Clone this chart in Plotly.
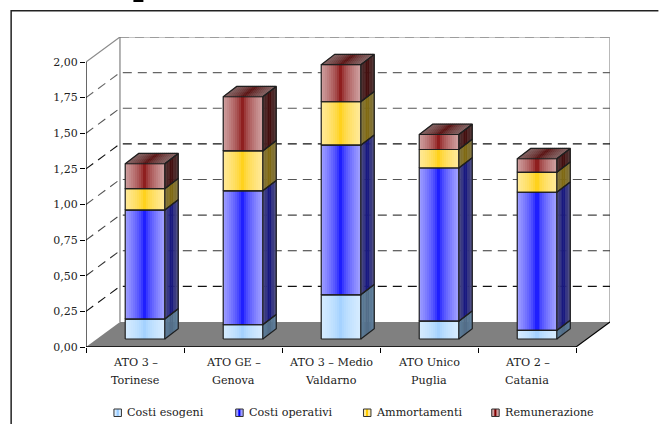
import plotly.graph_objects as go

# Unit cost components per water district (euro per cubic metre)
categories = [("ATO 3 –", "Torinese"), ("ATO GE –", "Genova"), ("ATO 3 – Medio", "Valdarno"),
              ("ATO Unico", "Puglia"), ("ATO 2 –", "Catania")]
costi_esogeni = [0.14, 0.10, 0.31, 0.125, 0.06]
costi_operativi = [0.765, 0.94, 1.05, 1.075, 0.97]
ammortamenti = [0.15, 0.28, 0.305, 0.13, 0.14]
remunerazione = [0.175, 0.38, 0.26, 0.105, 0.095]
y_ticks = [0, 0.25, 0.5, 0.75, 1.0, 1.25, 1.5, 1.75, 2.0]
series = [
    ("Costi esogeni", costi_esogeni, "#99ccff", "#d6ecff", "#4d6680", "#5f7f9c"),
    ("Costi operativi", costi_operativi, "#0000ff", "#a0a0ff", "#000080", "#4d4d80"),
    ("Ammortamenti", ammortamenti, "#ffcc00", "#ffe999", "#806600", "#807340"),
    ("Remunerazione", remunerazione, "#800000", "#cfa0a0", "#400000", "#4d3333"),
]
top_colors = ("#500000", "#806060")

W, H = 659, 424
MARGIN_L, MARGIN_R, MARGIN_T, MARGIN_B = 85.5, 48.5, 37, 77
FONT = "DejaVu Serif"
TEXT = "#222222"
LABEL_SIZE = 11.2

# Oblique projection of the chart box, in axis units
n = len(categories)
slot_px = 98.1
unit_px = 142.5
box_dx = 34 / slot_px
box_dy = 25 / unit_px
bar_w = 39.6 / slot_px
bar_shift = 10 / slot_px
bar_lift = 8 / unit_px
side_dx = 13.5 / slot_px
side_dy = 10.3 / unit_px
front_strips = 20
side_strips = 8


def hex_rgb(c):
    return tuple(int(c[i:i + 2], 16) for i in (1, 3, 5))


def mix(a, b, t):
    ra, rb = hex_rgb(a), hex_rgb(b)
    return "rgb(%d,%d,%d)" % tuple(round(x + (y - x) * t) for x, y in zip(ra, rb))


def band(centre, edge, u):
    # Metallic shading: pale edges falling to a saturated middle
    return mix(centre, edge, abs(2 * u - 1) ** 0.55)


fig = go.Figure()
shapes = []
annotations = []


def px(x):
    return (x - MARGIN_L) / (W - MARGIN_L - MARGIN_R)


def py(y):
    return 1 - (y - MARGIN_T) / (H - MARGIN_T - MARGIN_B)


# Floor, back wall and left wall
shapes.append(dict(type="path", layer="below", xref="x", yref="y", fillcolor="#808080", line=dict(width=0),
                   path=f"M0,0 L{n},0 L{n + box_dx},{box_dy} L{box_dx},{box_dy} Z"))
shapes.append(dict(type="path", layer="below", xref="x", yref="y", line=dict(color="#8c8c8c", width=1.2),
                   path=f"M0,2 L{box_dx},{2 + box_dy} L{n + box_dx},{2 + box_dy} L{n + box_dx},{box_dy}"))
shapes.append(dict(type="line", layer="below", xref="x", yref="y", line=dict(color="#808080", width=1.2),
                   x0=box_dx, x1=box_dx, y0=box_dy, y1=2 + box_dy))

# Dashed gridlines run up the left wall and across the back wall
grid_shades = {0.25: "#111111", 0.5: "#333333", 0.75: "#444444", 1.0: "#555555",
               1.25: "#111111", 1.5: "#555555", 1.75: "#666666", 2.0: "#777777"}
for v in y_ticks[1:]:
    first = f"M{box_dx},{v + box_dy}" if v == 2.0 else f"M0,{v} L{box_dx},{v + box_dy}"
    shapes.append(dict(type="path", layer="below", xref="x", yref="y",
                       line=dict(color=grid_shades[v], width=1.1, dash="9px,6px"),
                       path=f"{first} L{n + box_dx},{v + box_dy}"))

# Front faces: each stacked segment is a run of narrow bars carrying the shading
cum = [0.0] * n
stack_levels = []
for name, vals, centre, edge, side_c, side_e in series:
    xs, ys, bases, colors = [], [], [], []
    strip = bar_w / front_strips
    for i, v in enumerate(vals):
        left = i + 0.5 + bar_shift - bar_w / 2
        for k in range(front_strips):
            xs.append(left + (k + 0.5) * strip)
            ys.append(v)
            bases.append(cum[i] + bar_lift)
            colors.append(band(centre, edge, (k + 0.5) / front_strips))
    fig.add_trace(go.Bar(x=xs, y=ys, base=bases, width=strip, name=name, showlegend=False,
                         marker=dict(color=colors, line=dict(width=0)), hoverinfo="skip"))
    stack_levels.append((list(cum), [c + v for c, v in zip(cum, vals)], side_c, side_e))
    cum = [c + v for c, v in zip(cum, vals)]

# Side faces, one trace per shading step
for low, high, side_c, side_e in stack_levels:
    for k in range(side_strips):
        u0, u1 = k / side_strips, (k + 1) / side_strips
        color = band(side_c, side_e, (k + 0.5) / side_strips)
        xs, ys = [], []
        for i in range(n):
            r = i + 0.5 + bar_shift + bar_w / 2
            b, t = low[i] + bar_lift, high[i] + bar_lift
            xs += [r + side_dx * u0, r + side_dx * u1, r + side_dx * u1, r + side_dx * u0, r + side_dx * u0, None]
            ys += [b + side_dy * u0, b + side_dy * u1, t + side_dy * u1, t + side_dy * u0, b + side_dy * u0, None]
        fig.add_trace(go.Scatter(x=xs, y=ys, mode="lines", fill="toself", fillcolor=color,
                                 line=dict(color=color, width=0.6), showlegend=False, hoverinfo="skip"))

# Top caps
totals = stack_levels[-1][1]
for k in range(front_strips):
    u0, u1 = k / front_strips, (k + 1) / front_strips
    color = band(top_colors[0], top_colors[1], (k + 0.5) / front_strips)
    xs, ys = [], []
    for i in range(n):
        l = i + 0.5 + bar_shift - bar_w / 2
        t = totals[i] + bar_lift
        xs += [l + bar_w * u0, l + bar_w * u1, l + bar_w * u1 + side_dx, l + bar_w * u0 + side_dx, l + bar_w * u0, None]
        ys += [t, t, t + side_dy, t + side_dy, t, None]
    fig.add_trace(go.Scatter(x=xs, y=ys, mode="lines", fill="toself", fillcolor=color,
                             line=dict(color=color, width=0.6), showlegend=False, hoverinfo="skip"))

# Dark edges of every segment
ex, ey = [], []
for low, high, _, _ in stack_levels:
    for i in range(n):
        l = i + 0.5 + bar_shift - bar_w / 2
        r = l + bar_w
        b, t = low[i] + bar_lift, high[i] + bar_lift
        ex += [l, r, r, l, l, None, r, r + side_dx, r + side_dx, r, None]
        ey += [b, b, t, t, b, None, b, b + side_dy, t + side_dy, t, None]
for i in range(n):
    l = i + 0.5 + bar_shift - bar_w / 2
    r = l + bar_w
    t = totals[i] + bar_lift
    ex += [l, l + side_dx, r + side_dx, r, None]
    ey += [t, t + side_dy, t + side_dy, t, None]
fig.add_trace(go.Scatter(x=ex, y=ey, mode="lines", line=dict(color="#1f1f1f", width=1.2),
                         showlegend=False, hoverinfo="skip"))

# Front axis lines
shapes.append(dict(type="line", xref="x", yref="y", x0=0, x1=0, y0=0, y1=2, line=dict(color="#000000", width=1.2)))
shapes.append(dict(type="line", xref="x", yref="y", x0=0, x1=n, y0=0, y1=0, line=dict(color="#000000", width=1.4)))
shapes.append(dict(type="line", xref="x", yref="y", x0=n, x1=n + box_dx, y0=0, y1=box_dy,
                   line=dict(color="#000000", width=1.1)))

# Category labels, two lines each
for i, (line1, line2) in enumerate(categories):
    for text, y in ((line1, 362), (line2, 380)):
        annotations.append(dict(x=i + 0.5, y=py(y), xref="x", yref="paper", text=text, showarrow=False,
                                xanchor="center", yanchor="middle",
                                font=dict(family=FONT, size=LABEL_SIZE, color=TEXT)))

# Legend row
legend_x = [113.5, 235.5, 363.5, 492]
for (name, _, centre, edge, _, _), x in zip(series, legend_x):
    for a, b, c in ((0, 2.5, edge), (2.5, 5, centre), (5, 7.5, edge)):
        shapes.append(dict(type="rect", xref="paper", yref="paper", x0=px(x + a), x1=px(x + b),
                           y0=py(416.5), y1=py(409), fillcolor=c, line=dict(width=0)))
    shapes.append(dict(type="rect", xref="paper", yref="paper", x0=px(x), x1=px(x + 7.5),
                       y0=py(416.5), y1=py(409), line=dict(color="#333333", width=1)))
    annotations.append(dict(x=px(x + 11), y=py(412), xref="paper", yref="paper", text=name, showarrow=False,
                            xanchor="left", yanchor="middle",
                            font=dict(family=FONT, size=LABEL_SIZE, color=TEXT)))

# Outer frame, open past the right and bottom edges of the page
shapes.append(dict(type="path", xref="paper", yref="paper", line=dict(color="#222222", width=1.5),
                   path=f"M{px(10.5)},{py(424)} L{px(10.5)},{py(10.8)} L{px(659)},{py(10.8)}"))
# Stub of the heading above the frame
shapes.append(dict(type="rect", xref="paper", yref="paper", x0=px(133), x1=px(143), y0=py(2), y1=py(0),
                   fillcolor="#000000", line=dict(width=0)))

fig.update_layout(
    width=W, height=H, autosize=False,
    margin=dict(l=MARGIN_L, r=MARGIN_R, t=MARGIN_T, b=MARGIN_B, pad=0),
    paper_bgcolor="white", plot_bgcolor="rgba(0,0,0,0)", barmode="overlay", bargap=0,
    separators=",.", showlegend=False, shapes=shapes, annotations=annotations,
    font=dict(family=FONT, size=LABEL_SIZE, color=TEXT),
    xaxis=dict(range=[0, n + box_dx], showgrid=False, zeroline=False, showline=False,
               showticklabels=False, ticks="", tickvals=[],
               minor=dict(tickmode="array", tickvals=list(range(n + 1)), ticks="outside", ticklen=5,
                          tickcolor="#000000", tickwidth=1.2, showgrid=False)),
    yaxis=dict(range=[0, 2 + box_dy], showgrid=False, zeroline=False, showline=False,
               tickmode="array", tickvals=y_ticks, tickformat=".2f", ticks="outside", ticklen=5,
               tickcolor="#000000", tickwidth=1.2, tickfont=dict(family=FONT, size=11, color=TEXT)),
)
fig.write_html("out.html")
